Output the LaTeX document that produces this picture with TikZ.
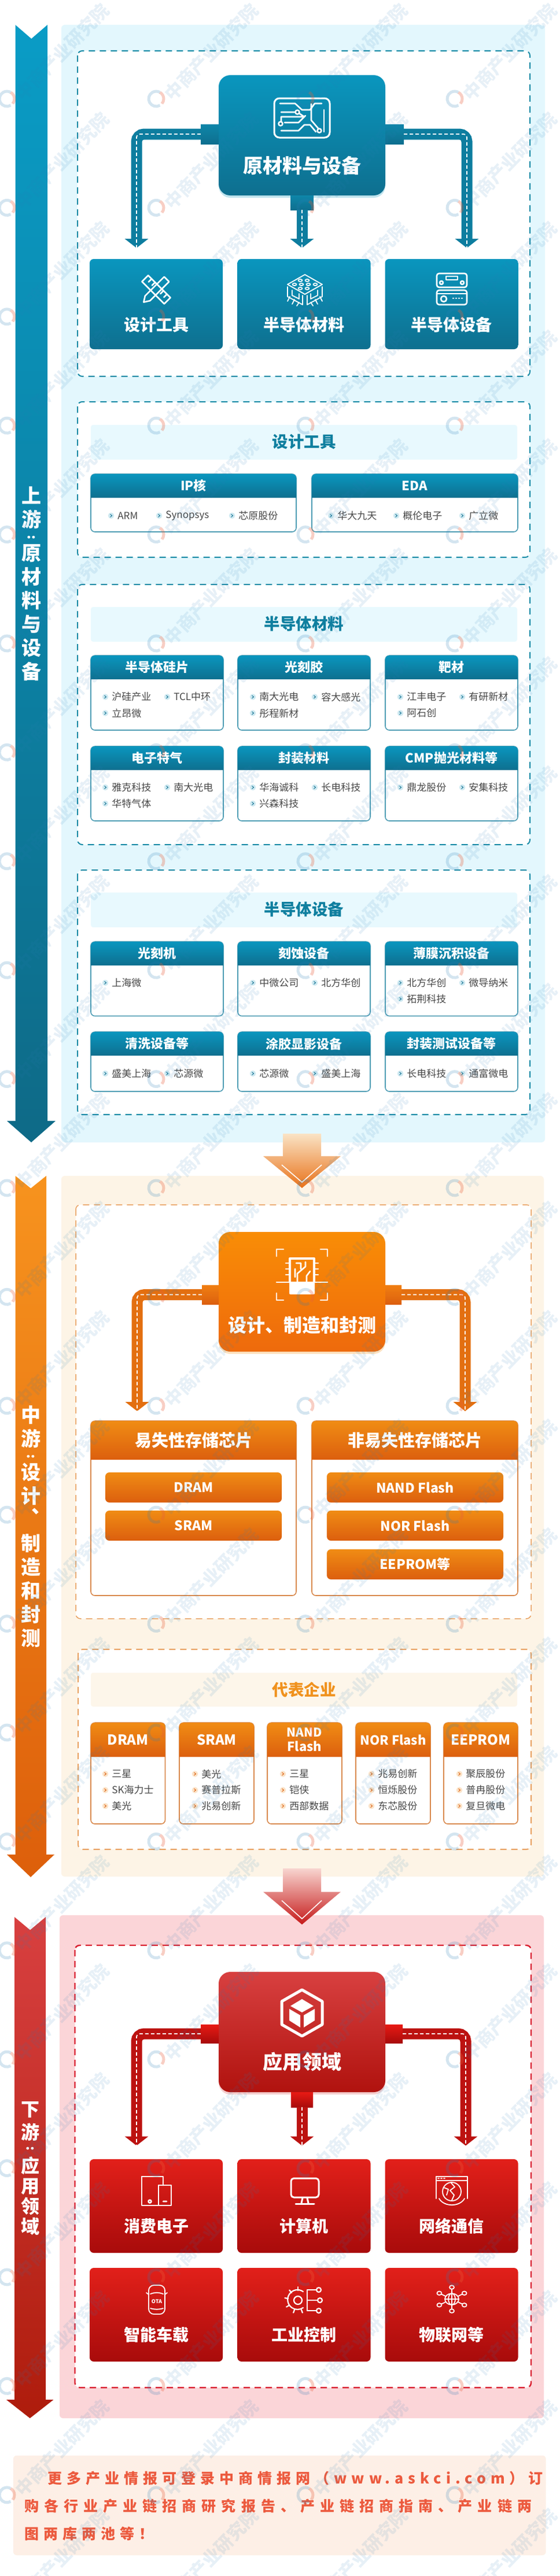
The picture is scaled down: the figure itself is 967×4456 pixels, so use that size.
\documentclass[tikz,border=0pt]{standalone}
\usepackage{fontspec}
\setmainfont{Noto Sans CJK SC}
\newfontfamily\notefont{Noto Sans CJK SC}[LetterSpace=32]
\newfontfamily\notewide{Noto Sans CJK SC}[LetterSpace=36.3]
\usetikzlibrary{arrows.meta}
\usetikzlibrary{positioning}
\usetikzlibrary{shadows}
\definecolor{cardhi}{HTML}{0A96BE}
\definecolor{cardlo}{HTML}{0E6F8F}
\definecolor{mainhi}{HTML}{0A96BE}
\definecolor{mainlo}{HTML}{0E6F8F}
\definecolor{sidehi}{HTML}{0A9CC6}
\definecolor{sidelo}{HTML}{0E6A87}
\definecolor{stubhi}{HTML}{0E86A9}
\definecolor{dashline}{HTML}{1A8BA6}
\definecolor{panelfill}{HTML}{E3F7FD}
\definecolor{bandfill}{HTML}{E8F9FE}
\definecolor{bordercol}{HTML}{4E9DB4}
\definecolor{dotfill}{HTML}{CFE9F1}
\definecolor{titlecol}{HTML}{0F7F9F}
\definecolor{wmblue}{HTML}{2A7FB8}
\definecolor{wmred}{HTML}{E8603C}
\definecolor{orangetop}{HTML}{FAE3C5}
\definecolor{orangeend}{HTML}{E8721A}
\definecolor{redtop}{HTML}{F8D5D0}
\definecolor{redend}{HTML}{C51A1A}
\definecolor{notefill}{HTML}{FDEFE6}
\definecolor{notetext}{HTML}{EC5A3E}
\tikzset{
    upstream/.code={},
    midstream/.code={%
        \definecolor{cardhi}{HTML}{F08C14}%
        \definecolor{cardlo}{HTML}{DC5F0E}%
        \definecolor{mainhi}{HTML}{F98D06}%
        \definecolor{mainlo}{HTML}{EE6A0C}%
        \definecolor{sidehi}{HTML}{F7931E}%
        \definecolor{sidelo}{HTML}{DD5F0B}%
        \definecolor{stubhi}{HTML}{F07F12}%
        \definecolor{dashline}{HTML}{E8A060}%
        \definecolor{panelfill}{HTML}{FDF4E6}%
        \definecolor{bandfill}{HTML}{FDF6EA}%
        \definecolor{bordercol}{HTML}{D98A4F}%
        \definecolor{dotfill}{HTML}{FBE3C8}%
        \definecolor{titlecol}{HTML}{F0921E}},
    downstream/.code={%
        \definecolor{cardhi}{HTML}{E2201A}%
        \definecolor{cardlo}{HTML}{A80B0B}%
        \definecolor{mainhi}{HTML}{D84040}%
        \definecolor{mainlo}{HTML}{B0120E}%
        \definecolor{sidehi}{HTML}{D84040}%
        \definecolor{sidelo}{HTML}{AE1C0C}%
        \definecolor{stubhi}{HTML}{E81A14}%
        \definecolor{dashline}{HTML}{D92030}%
        \definecolor{panelfill}{HTML}{FBD5D8}},
    panel/.style={fill=panelfill,rounded corners=6pt},
    dashbox/.style={draw=dashline,fill=white,line width=2pt,dash pattern=on 11pt off 8pt,rounded corners=8pt},
    band/.style={fill=bandfill,rounded corners=4pt},
    bandtext/.style={text=titlecol,font=\fontsize{27.5}{30}\selectfont\bfseries},
    mainbox/.style={top color=mainhi,bottom color=mainlo,rounded corners=20pt,minimum width=288pt,minimum height=208pt,inner sep=0pt,drop shadow={shadow xshift=0pt,shadow yshift=-4pt,opacity=.25,fill=mainhi}},
    maintext/.style={text=white,font=\fontsize{34}{36}\selectfont\bfseries},
    stubbox/.style={top color=stubhi,bottom color=cardlo,inner sep=0pt},
    pipe/.style={draw=cardhi!35!cardlo,line width=19pt,rounded corners=13pt,-{Triangle[width=40pt,length=16pt]}},
    pipedash/.style={draw=white,line width=1.8pt,dash pattern=on 6pt off 4pt,rounded corners=6pt},
    childbox/.style={top color=cardhi,bottom color=cardlo,rounded corners=7pt,minimum width=230pt,inner sep=0pt},
    childtext/.style={text=white,font=\fontsize{28}{30}\selectfont\bfseries},
    cardbody/.style={draw=bordercol,fill=white,line width=1.6pt,rounded corners=7pt},
    cardhead/.style={top color=cardhi,bottom color=cardlo},
    cardtitle/.style={text=white,font=\fontsize{22}{25}\selectfont\bfseries,align=center,inner sep=0pt},
    buttonbox/.style={top color=cardhi,bottom color=cardlo,rounded corners=7pt,minimum width=305pt,minimum height=52pt,inner sep=0pt,text=white,font=\fontsize{23}{25}\selectfont\bfseries},
    firmdot/.style={circle,fill=dotfill,draw=dotfill,minimum size=10pt,inner sep=0pt},
    firmtext/.style={text=black!72,font=\fontsize{17}{20}\selectfont,inner sep=0pt},
    sidetext/.style={text=white,align=center,inner sep=0pt,anchor=north},
    icon/.style={color=white,line width=2.6pt,line cap=round,line join=round},
    watermark/.style={text=wmblue,opacity=.11,font=\fontsize{31}{33}\selectfont\bfseries,rotate=46,anchor=west,inner sep=0pt},
}

% a card with a coloured title strip
\newcommand{\card}[7]{%
    \draw [cardbody] (#2,#3) rectangle (#4,#6);
    \shade [cardhead] (#2,#5) [rounded corners=7pt] -- (#2,#3) -- (#4,#3) [sharp corners] -- (#4,#5) -- cycle;
    \node (#1) [cardtitle] at ({(#2+#4)/2},{(#3+#5)/2}) {#7};
}
% company names with their little round marks
\newcommand{\firms}[2]{%
    \foreach \fx/\fy/\ft [count=\fn] in {#2} {
        \node (#1dot\fn) [firmdot] at (\fx,\fy) {};
        \draw [cardlo,line width=.9pt] (\fx-1.5,\fy-2.5) -- (\fx+1.5,\fy) -- (\fx-1.5,\fy+2.5);
        \node (#1\fn) [firmtext,right=6pt of #1dot\fn] {\ft};
    }
}
% side arrow: x1, x2, head x1, head x2, top, notch, shaft end, tip
\newcommand{\sidebar}[8]{%
    \shade [top color=sidehi,bottom color=sidelo] (#1,#5) -- ({(#1+#2)/2},#6) -- (#2,#5) -- (#2,#7) -- (#4,#7) -- ({(#3+#4)/2},#8) -- (#3,#7) -- (#1,#7) -- cycle;
}
% big arrow between two stages: top, head y, tip
\newcommand{\stagearrow}[5]{%
    \shade [top color=#4,bottom color=#5] (489,#1) -- (555,#1) -- (555,#2) -- (589,#2) -- (522,#3) -- (455,#2) -- (489,#2) -- cycle;
    \draw [white,line width=1.6pt] (487,#2+15) -- (522,#3-10) -- (556,#2+15);
}
\newcommand{\sidecolon}{{\fontsize{22}{22}\selectfont\raisebox{7pt}{\rotatebox{90}{:}}}}
\newcommand{\sidecomma}{\raisebox{24pt}{\makebox[1em][l]{\kern 18pt、}}}
\newcommand{\iconboard}[1]{\begin{scope}[shift={(#1)},icon]
    \draw [rounded corners=9pt,line width=3pt] (-48,-34) rectangle (48,34);
    \draw (-38,-25) -- (-12,-25) -- (0,-14) -- (14,-14) -- (22,-25) -- (34,-25);
    \draw (16,-24) -- (16,4) -- (28,18);
    \draw (38,-14) -- (38,24);
    \draw (-36,-10) -- (-8,-10) -- (4,-2) -- (-14,-2) -- (-36,-2) -- (-36,8);
    \draw (-36,22) -- (-6,22) -- (4,12) -- (14,12) -- (24,24);
    \draw (-30,8) -- (-6,8) -- (6,-4);
    \draw [fill=cardlo] (-8,-10) circle [radius=3.5] (-37,10) circle [radius=3.5] (30,22) circle [radius=3.5];
\end{scope}}
\newcommand{\iconpencil}[1]{\begin{scope}[shift={(#1)},icon,scale=.85]
    \begin{scope}[rotate=-45]
    \draw (-32,-9) rectangle (32,9);
    \foreach \t in {-22,-12,12,22} \draw (\t,-9) -- (\t,0);
    \end{scope}
    \begin{scope}[rotate=45]
    \draw (-36,0) -- (-25,-7) -- (30,-7) -- (30,7) -- (-25,7) -- cycle;
    \end{scope}
\end{scope}}
\newcommand{\iconchip}[1]{\begin{scope}[shift={(#1)},icon,line width=1.8pt]
    \draw (0,-26) -- (30,-9) -- (0,8) -- (-30,-9) -- cycle;
    \foreach \a/\b in {-8/-16,4/-16,-18/-9,-6/-9,6/-9,18/-9,-8/-2,4/-2} \draw (\a,\b) ellipse [x radius=3.5,y radius=2];
    \draw (-30,-5) -- (-30,12) -- (-4,26) -- (-4,10);
    \draw (30,-5) -- (30,12) -- (4,26) -- (4,10);
    \draw (-26,12) -- (-30,20) (-18,17) -- (-22,25) (-10,22) -- (-14,28);
    \draw (26,12) -- (30,20) (18,17) -- (22,25) (10,22) -- (14,28);
    \draw (-22,1) -- (-22,10) -- (-10,16) -- (-10,7);
    \draw (22,1) -- (22,10) -- (10,16) -- (10,7);
\end{scope}}
\newcommand{\iconequip}[1]{\begin{scope}[shift={(#1)},icon]
    \draw [rounded corners=4pt] (-26,-27) rectangle (26,-3);
    \draw (-10,-22) rectangle (10,-16);
    \draw (-18,-11) circle [radius=3] (18,-11) circle [radius=3];
    \draw [rounded corners=4pt] (-26,2) rectangle (26,27);
    \draw (-26,8) -- (26,8);
    \draw (-14,17) circle [radius=5];
    \draw [dash pattern=on 1pt off 4pt] (2,16) -- (18,16);
\end{scope}}
\newcommand{\iconscan}[1]{\begin{scope}[shift={(#1)},icon]
    \draw (-44,-32) -- (-44,-44) -- (-32,-44) (44,-32) -- (44,-44) -- (32,-44);
    \draw (-44,32) -- (-44,44) -- (-32,44) (44,32) -- (44,44) -- (32,44);
    \draw (-44,13) -- (44,13);
    \draw [line width=3.4pt] (-21,13) -- (-21,-28) -- (21,-28) -- (21,13);
    \fill [rounded corners=2pt] (-22,13) rectangle (22,34);
    \foreach \t in {-20,-10,0} \draw (-28,\t) -- (-21,\t) (21,\t) -- (28,\t);
    \draw (-8,13) -- (-8,-2) -- (6,-14) -- (6,-22) (8,13) -- (8,2) -- (14,-6) (-10,-20) -- (-2,-20) -- (-2,-10) (-12,-10) -- (-12,4);
\end{scope}}
\newcommand{\iconcube}[1]{\begin{scope}[shift={(#1)},icon,line width=5pt]
    \draw (0,-40) -- (35,-20) -- (35,20) -- (0,40) -- (-35,20) -- (-35,-20) -- cycle;
    \fill (0,-24) -- (20,-12) -- (0,-1) -- (-20,-12) -- cycle;
    \fill (-22,-7) -- (-3,4) -- (-3,25) -- (-22,13) -- cycle;
    \fill (22,-7) -- (3,4) -- (3,25) -- (22,13) -- cycle;
\end{scope}}
\newcommand{\icontablet}[1]{\begin{scope}[shift={(#1)},icon]
    \draw (4,25) -- (-25,25) -- (-25,-25) -- (12,-25) -- (12,-10);
    \draw (4,-10) rectangle (26,25);
    \draw (-11,18) circle [radius=2.5] (12,18) -- (18,18);
\end{scope}}
\newcommand{\iconmonitor}[1]{\begin{scope}[shift={(#1)},icon,line width=3pt]
    \draw [rounded corners=5pt] (-24,-22) rectangle (24,11);
    \draw (-4,12) -- (-6,21) (4,12) -- (6,21);
    \draw (-16,22) -- (16,22);
\end{scope}}
\newcommand{\iconweb}[1]{\begin{scope}[shift={(#1)},icon,line width=1.8pt]
    \draw (-27,14) -- (-27,-24) -- (27,-24) -- (27,14);
    \draw (-27,-17) -- (27,-17);
    \draw [dash pattern=on 2pt off 3pt] (-24,-21) -- (-10,-21);
    \draw (0,2) circle [radius=16];
    \draw (-22,14) to [bend right=60] (22,14);
    \draw (-2,-14) -- (5,-6) -- (-3,0) -- (4,8) -- (0,17);
    \draw (-14,-5) -- (-6,-2) -- (-9,8);
\end{scope}}
\newcommand{\iconcar}[2]{\begin{scope}[shift={(#1)},icon,line width=1.8pt]
    \draw [rounded corners=9pt] (-14,-25) rectangle (14,25);
    \draw (-14,-9) -- (-18,-12) (14,-9) -- (18,-12);
    \draw (-11,-10) to [bend left=20] (11,-10);
    \draw (-11,15) to [bend right=15] (11,15);
    \node (#2) [text=white,font=\fontsize{9}{10}\selectfont\bfseries,inner sep=0pt] at (0,3) {OTA};
\end{scope}}
\newcommand{\icongear}[1]{\begin{scope}[shift={(#1)},icon,line width=2.2pt]
    \draw (-12,0) circle [radius=7];
    \draw (-3,-15) arc [start angle=-55,end angle=-305,radius=17];
    \foreach \a in {70,110,150,190,230,270} \draw (-12,0) ++(\a:17) -- ++(\a:6);
    \draw (4,-18) -- (4,18) (4,-18) -- (20,-18) (4,0) -- (22,0) (4,18) -- (20,18);
    \draw (24,-18) circle [radius=4] (26,0) circle [radius=4] (24,18) circle [radius=4];
\end{scope}}
\newcommand{\iconiot}[1]{\begin{scope}[shift={(#1)},icon,line width=1.8pt,yscale=.82]
    \draw (0,0) circle [radius=12] (-12,0) -- (12,0) (0,-12) -- (0,12);
    \draw (0,0) ellipse [x radius=6,y radius=12];
    \foreach \a in {30,90,150,210,270,330} {
        \draw (\a:13) -- (\a:21);
        \draw (\a:25) circle [radius=4];
    }
\end{scope}}

\begin{document}
\begin{tikzpicture}[x=1pt,y=-1pt]
\useasboundingbox (0,0) rectangle (967,4456);
\fill [white] (0,0) rectangle (967,4456);

\begin{scope}[upstream]
\fill [panel] (106,43) rectangle (942,1976);
\sidebar{26.5}{82}{12}{96}{43}{67}{1939}{1976}
\node (upside) [sidetext,font=\fontsize{34}{41}\selectfont\bfseries] at (54,842) {上\\游\\[-12pt]\sidecolon\\[-12pt]原\\材\\料\\与\\设\\备};
\draw [dashbox] (134,88) rectangle (916,651);
\node (raw) [mainbox] at (522,234) {};
\node (rawl) [stubbox,minimum width=31pt,minimum height=34pt] at (362.5,232) {};
\node (rawr) [stubbox,minimum width=32pt,minimum height=34pt] at (682,232) {};
\node (rawb) [stubbox,minimum width=40pt,minimum height=25pt] at (522,350.5) {};
\coordinate (tipa) at (236,429);
\coordinate (tipb) at (522,429);
\coordinate (tipc) at (807,429);
\foreach \a/\b in {rawl.west/tipa,rawr.east/tipc} {
    \draw [pipe] (\a) -| (\b);
    \draw [pipedash] (\a) -| (\b);
}
\draw [pipe] (rawb.south) -- (tipb);
\draw [pipedash] (rawb.south) -- (tipb);
\iconboard{522,204}
\node (rawtext) [maintext] at (522,286) {原材料与设备};
\foreach \n/\x/\t in {tools/270/设计工具,mater/525.5/半导体材料,equip/780.5/半导体设备} {
    \node (\n) [childbox,minimum height=156pt] at (\x,526) {};
    \node (\n text) [childtext] at (\x,562) {\t};
}
\iconpencil{270,501}
\iconchip{527,501}
\iconequip{781,500}

\draw [dashbox] (134,695) rectangle (916,964);
\fill [band] (157,735) rectangle (894,795);
\node (bandtools) [bandtext] at (525.5,764) {设计工具};
\card{ipcore}{157}{820}{512}{861}{920}{IP核}
\card{eda}{539}{820}{895}{861}{920}{EDA}
\firms{td}{192/892/ARM,275/892/Synopsys,401/892/芯原股份,572/892/华大九天,685/892/概伦电子,799/892/广立微}

\draw [dashbox] (134,1011) rectangle (916,1461);
\fill [band] (157,1050) rectangle (894,1110);
\node (bandmater) [bandtext] at (525.5,1079) {半导体材料};
\foreach \n/\xa/\xb/\t in {wafer/157/386/半导体硅片,resist/411/640/光刻胶,target/666/895/靶材} {
    \card{\n}{\xa}{1134}{\xb}{1175}{1263}{\t}
}
\foreach \n/\xa/\xb/\t in {gas/157/386/电子特气,pack/411/640/封装材料,cmp/666/895/CMP抛光材料等} {
    \card{\n}{\xa}{1291}{\xb}{1332}{1420}{\t}
}
\firms{ma}{182/1205.5/沪硅产业,289/1205.5/TCL中环,182/1233.5/立昂微,437/1205.5/南大光电,544/1205.5/容大感光,437/1233.5/彤程新材,692/1205.5/江丰电子,799/1205.5/有研新材,692/1233.5/阿石创}
\firms{mb}{182/1362/雅克科技,289/1362/南大光电,182/1390/华特气体,437/1362/华海诚科,544/1362/长电科技,437/1390/兴森科技,692/1362/鼎龙股份,799/1362/安集科技}

\draw [dashbox] (134,1505) rectangle (916,1928);
\fill [band] (157,1544) rectangle (894,1604);
\node (bandequip) [bandtext] at (525.5,1573) {半导体设备};
\foreach \n/\xa/\xb/\t in {litho/157/386/光刻机,etch/411/640/刻蚀设备,film/666/895/薄膜沉积设备} {
    \card{\n}{\xa}{1629}{\xb}{1670}{1757.5}{\t}
}
\foreach \n/\xa/\xb/\t in {clean/157/386/清洗设备等,coat/411/640/涂胶显影设备,test/666/895/封装测试设备等} {
    \card{\n}{\xa}{1785}{\xb}{1826}{1888}{\t}
}
\firms{ea}{182/1700/上海微,437/1700/中微公司,544/1700/北方华创,692/1700/北方华创,799/1700/微导纳米,692/1728/拓荆科技}
\firms{eb}{182/1857/盛美上海,289/1857/芯源微,437/1857/芯源微,544/1857/盛美上海,692/1857/长电科技,799/1857/通富微电}
\end{scope}

\begin{scope}[midstream]
\fill [panel] (106,2034) rectangle (940,3246);
\sidebar{26.5}{80}{12}{94}{2034}{2055.5}{3208}{3247}
\node (midside) [sidetext,font=\fontsize{34}{41}\selectfont\bfseries] at (53,2431) {中\\游\\[-12pt]\sidecolon\\[-12pt]设\\计\\\sidecomma\\制\\造\\和\\封\\测};
\stagearrow{1961}{2000}{2055}{orangetop}{orangeend}
\draw [dashbox,line width=1.5pt] (131,2084) rectangle (918,2800);
\node (make) [mainbox,minimum height=207pt] at (522,2234.5) {};
\node (makel) [stubbox,minimum width=29pt,minimum height=33pt] at (363.5,2239.5) {};
\node (maker) [stubbox,minimum width=28pt,minimum height=33pt] at (680,2239.5) {};
\coordinate (tipd) at (237,2441);
\coordinate (tipe) at (804,2441);
\foreach \a/\b in {makel.west/tipd,maker.east/tipe} {
    \draw [pipe] (\a) -| (\b);
    \draw [pipedash] (\a) -| (\b);
}
\iconscan{522,2205}
\node (maketext) [maintext,font=\fontsize{32}{34}\selectfont\bfseries] at (522,2292) {设计、制造和封测};
\card{volatile}{157}{2458}{512}{2525}{2760}{\fontsize{29}{32}\selectfont 易失性存储芯片}
\card{nonvol}{539}{2458}{895}{2525}{2760}{\fontsize{29}{32}\selectfont 非易失性存储芯片}
\foreach \n/\x/\y/\t in {dram/334.5/2573/DRAM,sram/334.5/2639/SRAM,nand/717.5/2573/NAND Flash,nor/717.5/2639/NOR Flash,eeprom/717.5/2706/EEPROM等} {
    \node (\n) [buttonbox] at (\x,\y) {\t};
}

\draw [dashbox] (135,2853) rectangle (918,3199);
\fill [band] (157,2893.5) rectangle (894,2952);
\node (bandfirm) [bandtext] at (525.5,2923) {代表企业};
\foreach \n/\xa/\xb/\s/\t in {cdram/157/285.5/24/DRAM,csram/310/439/24/SRAM,cnand/462/591/21/{NAND\\Flash},cnor/615/744/22/NOR Flash,ceeprom/767/895/24/EEPROM} {
    \card{\n}{\xa}{2980}{\xb}{3039}{3155}{\fontsize{\s}{21}\selectfont \t}
}
\firms{fa}{182/3068.5/三星,182/3096.5/SK海力士,182/3124/美光,337/3068.5/美光,337/3096.5/赛普拉斯,337/3124/兆易创新,489/3068.5/三星,489/3096.5/铠侠,489/3124/西部数据}
\firms{fb}{642/3068.5/兆易创新,642/3096.5/恒烁股份,642/3124/东芯股份,794/3068.5/聚辰股份,794/3096.5/普冉股份,794/3124/复旦微电}
\end{scope}

\begin{scope}[downstream]
\fill [panel] (103,3313) rectangle (940,4183);
\sidebar{25}{79}{11}{92.5}{3316}{3338.6}{4151}{4183}
\node (downside) [sidetext,font=\fontsize{32}{35}\selectfont\bfseries] at (52,3635) {下\\[5pt]游\\[-8pt]\sidecolon\\[-4pt]应\\用\\领\\域};
\stagearrow{3232}{3272.5}{3329}{redtop}{redend}
\draw [dashbox,line width=2.4pt] (129.5,3365) rectangle (918,4130);
\node (apply) [mainbox] at (522,3515) {};
\node (applyl) [stubbox,minimum width=31pt,minimum height=32pt] at (362.5,3518) {};
\node (applyr) [stubbox,minimum width=30pt,minimum height=32pt] at (681,3518) {};
\node (applyb) [stubbox,minimum width=38pt,minimum height=26pt] at (522,3632) {};
\coordinate (tipf) at (236,3711.5);
\coordinate (tipg) at (522,3711.5);
\coordinate (tiph) at (805,3711.5);
\foreach \a/\b in {applyl.west/tipf,applyr.east/tiph} {
    \draw [pipe] (\a) -| (\b);
    \draw [pipedash] (\a) -| (\b);
}
\draw [pipe] (applyb.south) -- (tipg);
\draw [pipedash] (applyb.south) -- (tipg);
\iconcube{522,3482}
\node (applytext) [maintext] at (522,3566) {应用领域};
\foreach \n/\x/\y/\t in {cons/270/3816/消费电子,comp/525.5/3816/计算机,net/780.5/3816/网络通信,auto/270/4004/智能车载,ctrl/525.5/4004/工业控制,iot/780.5/4004/物联网等} {
    \node (\n) [childbox,minimum height=162pt] at (\x,\y) {};
    \node (\n text) [childtext] at (\x,\y+35) {\t};
}
\icontablet{270,3790}
\iconmonitor{527,3790}
\iconweb{781,3789}
\iconcar{271,3978}{ota}
\icongear{527,3979}
\iconiot{781,3977}
\end{scope}

\fill [notefill,rounded corners=6pt] (23,4247.5) rectangle (943.6,4420);
\foreach \n/\x/\y/\f/\t in {notea/82/4287/\notefont/更多产业情报可登录中商情报网（www.askci.com）订,noteb/42/4335/\notewide/购各行业产业链招商研究报告、产业链招商指南、产业链两,notec/42/4383/\notefont/图两库两池等！} {
    \node (\n) [anchor=west,inner sep=0pt,text=notetext,font=\f\fontsize{25}{28}\selectfont\bfseries] at (\x,\y) {\t};
}

\foreach \i in {0,...,3} {
    \foreach \j in {0,...,23} {
        \pgfmathsetmacro\wx{12+258*\i}
        \pgfmathsetmacro\wy{171+188.4*\j}
        \draw [wmblue,opacity=.2,line width=5pt] (\wx,\wy) ++(60:13) arc [start angle=60,end angle=300,radius=13];
        \draw [wmred,opacity=.3,line width=5pt] (\wx,\wy) ++(-60:13) arc [start angle=-60,end angle=40,radius=13];
        \node (wm\i-\j) [watermark] at (\wx+20,\wy-3) {中商产业研究院};
    }
}
\end{tikzpicture}
\end{document}
